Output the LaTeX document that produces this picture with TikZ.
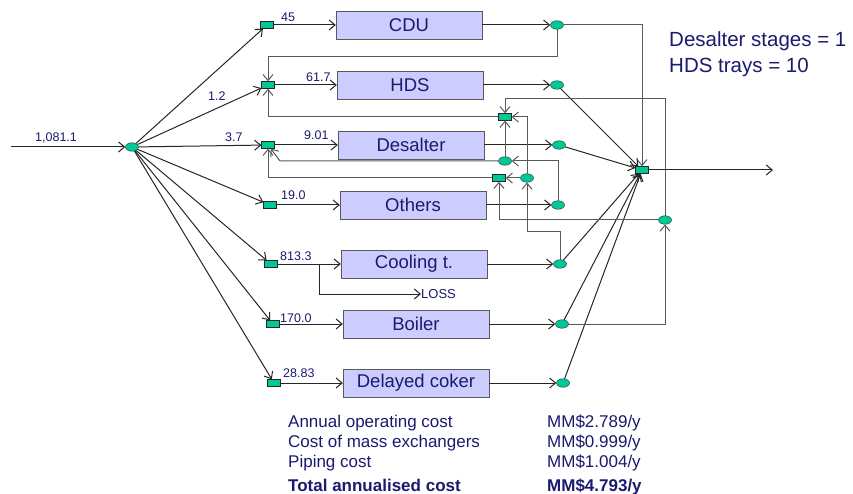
\documentclass[tikz,border=0pt]{standalone}
\usepackage{fontspec}
\setmainfont{Liberation Sans}
\usetikzlibrary{arrows.meta,shapes.geometric}
\definecolor{unitfill}{HTML}{CCCCFF}
\definecolor{nodefill}{HTML}{00C896}
\definecolor{navy}{HTML}{1A1A6E}
\begin{document}
\begin{tikzpicture}[x=1pt,y=-1pt,
  unit/.style={draw=black!65,fill=unitfill,minimum width=146pt,minimum height=28pt,inner sep=0pt,text=navy,font=\fontsize{18.5}{20}\selectfont},
  mix/.style={draw=black!85,fill=nodefill,minimum width=13pt,minimum height=7pt,inner sep=0pt},
  split/.style={draw=black!85,fill=nodefill,ellipse,minimum width=13pt,minimum height=8.5pt,inner sep=0pt},
  flow/.style={draw=black!85,line width=1pt,-{Straight Barb[length=6pt,width=10pt]}},
  recycle/.style={flow,draw=black!65},
  num/.style={text=navy,font=\fontsize{12.5}{14}\selectfont,inner sep=0pt,anchor=west},
  note/.style={text=navy,font=\fontsize{20.5}{22}\selectfont,inner sep=0pt,anchor=west},
  cost/.style={text=navy,font=\fontsize{17}{19}\selectfont,inner sep=0pt,anchor=base west}]
\useasboundingbox (0, 0) rectangle (853, 494);
\coordinate (in) at (11, 147);
\coordinate (out) at (773, 170);
\coordinate (lb) at (319, 264);
\draw (132, 147) node[split] (s0) {};
\draw (267, 25) node[mix] (mc) {};
\draw (268, 85) node[mix] (mh) {};
\draw (268, 145) node[mix] (md) {};
\draw (270, 205) node[mix] (mo) {};
\draw (271, 264) node[mix] (mt) {};
\draw (273, 324) node[mix] (mb) {};
\draw (274, 383) node[mix] (mk) {};
\draw (409, 25) node[unit] (cdu) {CDU};
\draw (410, 85) node[unit] (hds) {HDS};
\draw (411, 145) node[unit] (des) {Desalter};
\draw (413, 205) node[unit] (oth) {Others};
\draw (414, 264) node[unit] (cool) {Cooling t.};
\draw (416, 324) node[unit] (boil) {Boiler};
\draw (416, 383) node[unit] (cok) {Delayed coker};
\draw (557, 25) node[split] (ec) {};
\draw (557, 85) node[split] (eh) {};
\draw (559, 145) node[split] (ed) {};
\draw (558, 205) node[split] (eo) {};
\draw (560, 264) node[split] (et) {};
\draw (562, 324) node[split] (eb) {};
\draw (563, 383) node[split] (ek) {};
\draw (642, 170) node[mix] (fm) {};
\draw (505, 117) node[mix] (r1) {};
\draw (499, 178) node[mix] (r2) {};
\draw (505, 161) node[split] (s1) {};
\draw (527, 178) node[split] (s2) {};
\draw (665, 220) node[split] (s3) {};
\draw (35, 138) node[num] (f0) {1,081.1};
\draw (208, 96) node[num] (f2) {1.2};
\draw (225, 137) node[num] (f3) {3.7};
\draw (281, 17) node[num] (q1) {45};
\draw (306, 77) node[num] (q2) {61.7};
\draw (304, 135) node[num] (q3) {9.01};
\draw (281, 195) node[num] (q4) {19.0};
\draw (280, 256) node[num] (q5) {813.3};
\draw (280, 318) node[num] (q6) {170.0};
\draw (283, 373) node[num] (q7) {28.83};
\draw (421, 294) node[num, font=\fontsize{13}{14}\selectfont] (loss) {LOSS};
\draw (669, 41) node[note] (t1) {Desalter stages = 1};
\draw (669, 67) node[note] (t2) {HDS trays = 10};
\draw (288, 427) node[cost] (c1) {Annual operating cost};
\draw (288, 447) node[cost] (c2) {Cost of mass exchangers};
\draw (288, 467) node[cost] (c3) {Piping cost};
\draw (288, 491) node[cost, font=\fontsize{17}{19}\bfseries] (c4) {Total annualised cost};
\draw (547, 427) node[cost] (v1) {MM\$2.789/y};
\draw (547, 447) node[cost] (v2) {MM\$0.999/y};
\draw (547, 467) node[cost] (v3) {MM\$1.004/y};
\draw (547, 491) node[cost, font=\fontsize{17}{19}\bfseries] (v4) {MM\$4.793/y};
\draw[flow] (in) -- (s0);
\draw[flow] (s0) -- (mc);
\draw[flow] (s0) -- (mh);
\draw[flow] (s0) -- (md);
\draw[flow] (s0) -- (mo);
\draw[flow] (s0) -- (mt);
\draw[flow] (s0) -- (mb);
\draw[flow] (s0) -- (mk);
\draw[flow] (mc) -- (cdu);
\draw[flow] (mh) -- (hds);
\draw[flow] (md) -- (des);
\draw[flow] (mo) -- (oth);
\draw[flow] (mt) -- (cool);
\draw[flow] (mb) -- (boil);
\draw[flow] (mk) -- (cok);
\draw[flow] (cdu) -- (ec);
\draw[flow] (hds) -- (eh);
\draw[flow] (des) -- (ed);
\draw[flow] (oth) -- (eo);
\draw[flow] (cool) -- (et);
\draw[flow] (boil) -- (eb);
\draw[flow] (cok) -- (ek);
\draw[flow] (lb) |- (loss);
\draw[recycle] (ec) -| (fm);
\draw[recycle] (ec) -- (557, 57) -| (mh);
\draw[flow] (eh) -- (fm);
\draw[flow] (ed) -- (fm);
\draw[flow] (et) -- (fm);
\draw[flow] (eb) -- (fm);
\draw[flow] (ek) -- (fm);
\draw[recycle] (eo) |- (s1);
\draw[recycle] (s1) -- (280, 161) -- (md);
\draw[recycle] (s1) -- (r1);
\draw[recycle] (et) |- (527, 232) -- (s2);
\draw[recycle] (s2) -- (r2);
\draw[recycle] (s2) |- (r1);
\draw[recycle] (eb) -| (s3);
\draw[recycle] (s3) |- (505, 99) -- (r1);
\draw[recycle] (s3) -| (r2);
\draw[recycle] (r1) -| (mh);
\draw[recycle] (r2) -| (md);
\draw[flow] (fm) -- (out);
\end{tikzpicture}
\end{document}
